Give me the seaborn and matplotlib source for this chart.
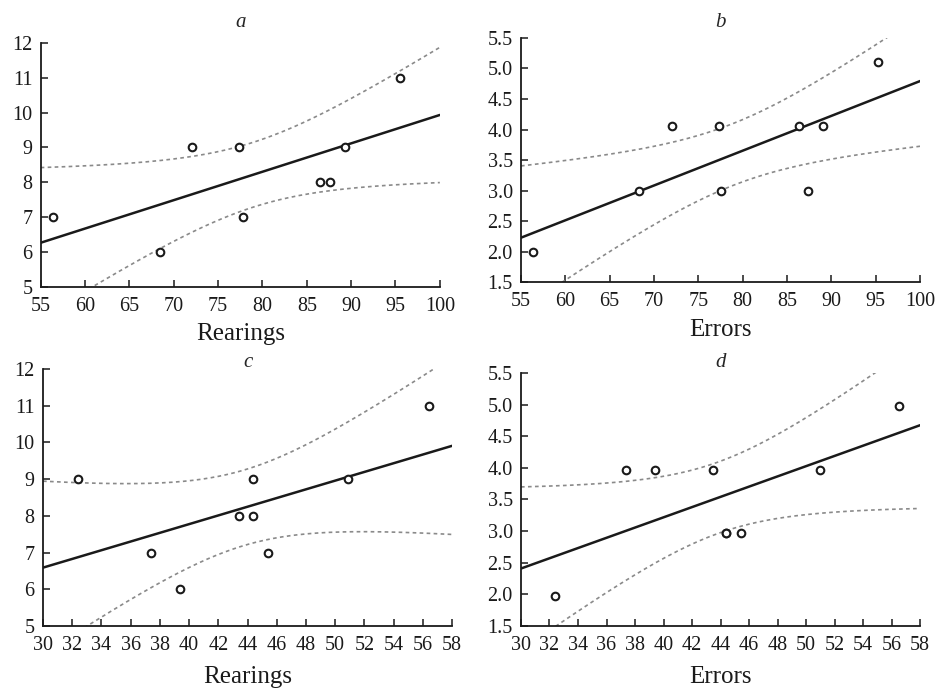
import numpy as np
import matplotlib
matplotlib.use("Agg")
import matplotlib.pyplot as plt
import seaborn as sns

# panel a: Rearings (x) vs y
a_x = [56.4, 68.4, 72.1, 77.4, 77.8, 86.5, 87.6, 89.3, 95.5]
a_y = [7, 6, 9, 9, 7, 8, 8, 9, 11]
# panel b: Errors (x) vs y
b_x = [56.4, 68.3, 72.0, 77.3, 77.6, 86.3, 87.4, 89.1, 95.3]
b_y = [2.0, 3.0, 4.05, 4.05, 3.0, 4.05, 3.0, 4.05, 5.1]
# panel c
c_x = [32.4, 37.4, 39.4, 43.4, 44.4, 44.4, 45.4, 50.9, 56.4]
c_y = [9, 7, 6, 8, 8, 9, 7, 9, 11]
# panel d (two animals share x = 44.4, y = 3, markers overlap)
d_x = [32.4, 37.4, 39.4, 43.5, 44.4, 44.4, 45.4, 51.0, 56.5]
d_y = [1.97, 3.97, 3.97, 3.97, 2.97, 2.97, 2.97, 3.97, 4.98]

panel_titles = ["a", "b", "c", "d"]
x_labels = ["Rearings", "Errors", "Rearings", "Errors"]

# t quantiles (0.975) by degrees of freedom
T975 = {6: 2.4469, 7: 2.3646}


def fit_with_band(x, y, xmin, xmax):
    x = np.asarray(x, float)
    y = np.asarray(y, float)
    n = len(x)
    slope, icpt = np.polyfit(x, y, 1)
    resid = y - (icpt + slope * x)
    s = np.sqrt(np.sum(resid ** 2) / (n - 2))
    sxx = np.sum((x - x.mean()) ** 2)
    grid = np.linspace(xmin, xmax, 200)
    fit = icpt + slope * grid
    se = s * np.sqrt(1.0 / n + (grid - x.mean()) ** 2 / sxx)
    half = T975[n - 2] * se
    return grid, fit, fit - half, fit + half


sns.set_style("ticks")
plt.rcParams["font.family"] = ["Liberation Serif", "DejaVu Serif"]
plt.rcParams["xtick.direction"] = "in"
plt.rcParams["ytick.direction"] = "in"

fig = plt.figure(figsize=(9.37, 6.9), dpi=100)
rects = [
    [0.0434, 0.584, 0.426, 0.354],
    [0.556, 0.591, 0.426, 0.354],
    [0.0459, 0.0928, 0.4365, 0.3725],
    [0.556, 0.0928, 0.426, 0.3667],
]
panels = [(a_x, a_y), (b_x, b_y), (c_x, c_y), (d_x, d_y)]
xlims = [(55, 100), (55, 100), (30, 58), (30, 58)]
ylims = [(5, 12), (1.5, 5.5), (5, 12), (1.5, 5.5)]
title_y = [1.0655, 1.045, 1.008, 1.024]
label_pads = [5.5, 5.5, 8, 8]

for i, (xs, ys) in enumerate(panels):
    ax = fig.add_axes(rects[i])
    x0, x1 = xlims[i]
    grid, fit, lo, hi = fit_with_band(xs, ys, x0, x1)

    sns.lineplot(x=grid, y=lo, ax=ax, color="#8a8a8a", lw=1.2, linestyle=(0, (2.2, 2.0)))
    sns.lineplot(x=grid, y=hi, ax=ax, color="#8a8a8a", lw=1.2, linestyle=(0, (2.2, 2.0)))
    sns.lineplot(x=grid, y=fit, ax=ax, color="#1a1a1a", lw=1.8)
    sns.scatterplot(x=xs, y=ys, ax=ax, marker="o", s=30, facecolor="white",
                    edgecolor="#1a1a1a", linewidth=1.5, zorder=5)

    ax.set_xlim(x0, x1)
    ax.set_ylim(*ylims[i])
    if i < 2:
        ax.set_xticks(np.arange(55, 101, 5))
    else:
        ax.set_xticks(np.arange(30, 59, 2))
    if i in (0, 2):
        ax.set_yticks(np.arange(5, 13, 1))
    else:
        ax.set_yticks(np.arange(1.5, 5.6, 0.5))
        ax.set_yticklabels([f"{v:.1f}" for v in np.arange(1.5, 5.6, 0.5)])

    sns.despine(ax=ax)
    for sp in ("left", "bottom"):
        ax.spines[sp].set_linewidth(1.3)
        ax.spines[sp].set_color("#1a1a1a")
    ax.tick_params(axis="both", length=5, width=1.1, labelsize=14.5, colors="#1a1a1a")
    ax.tick_params(axis="x", pad=7)
    ax.tick_params(axis="y", pad=6)
    ax.set_xlabel(x_labels[i], fontsize=18, labelpad=label_pads[i], color="#1a1a1a")
    ax.set_ylabel("")
    ax.set_title(panel_titles[i], fontsize=15, style="italic", y=title_y[i], pad=0)

fig.savefig("out.png", dpi=100)
